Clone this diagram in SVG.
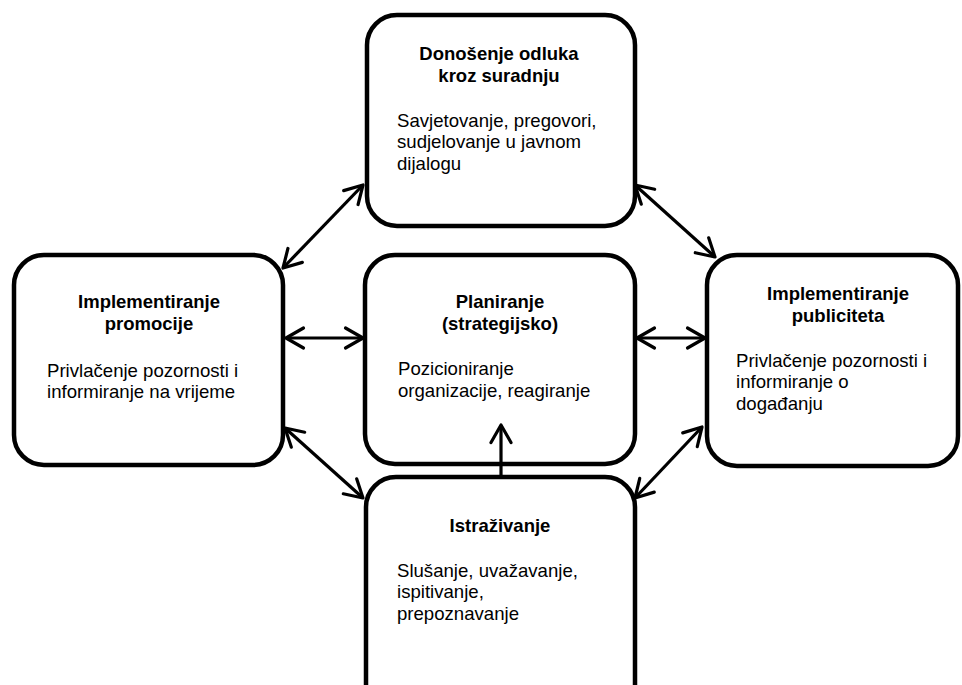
<svg xmlns="http://www.w3.org/2000/svg" width="962" height="685" viewBox="0 0 962 685">
<style>
.box{fill:#fff;stroke:#000;stroke-width:4.5}
.t{font-family:"Liberation Sans",Arial,sans-serif;font-size:18.5px;font-weight:bold;text-anchor:middle;fill:#000}
.b{font-family:"Liberation Sans",Arial,sans-serif;font-size:18.6px;fill:#000}
.c{fill:none;stroke:#000;stroke-width:3.2}
</style>
<defs>
<marker id="ah" markerUnits="userSpaceOnUse" viewBox="-22 -14 26 28" refX="0" refY="0" markerWidth="26" markerHeight="28" orient="auto-start-reverse" overflow="visible">
<path d="M-17.5,-10 L0,0 L-17.5,10" fill="none" stroke="#000" stroke-width="3.2" stroke-linecap="round" stroke-linejoin="round"/>
</marker>
</defs>
<rect width="962" height="685" fill="#fff"/>
<g id="n-top">
<rect class="box" x="367" y="15" width="268" height="211" rx="30"/>
<text class="t" x="499" y="60">Donošenje odluka</text>
<text class="t" x="499" y="82">kroz suradnju</text>
<text class="b" x="397" y="127">Savjetovanje, pregovori,</text>
<text class="b" x="397" y="148">sudjelovanje u javnom</text>
<text class="b" x="397" y="170">dijalogu</text>
</g>
<g id="n-left">
<rect class="box" x="14" y="255" width="269" height="210" rx="30"/>
<text class="t" x="149" y="308">Implementiranje</text>
<text class="t" x="149" y="330">promocije</text>
<text class="b" x="47" y="377">Privlačenje pozornosti i</text>
<text class="b" x="47" y="398">informiranje na vrijeme</text>
</g>
<g id="n-center">
<rect class="box" x="365" y="255" width="270" height="209" rx="30"/>
<text class="t" x="500" y="308">Planiranje</text>
<text class="t" x="500" y="330">(strategijsko)</text>
<text class="b" x="398" y="375">Pozicioniranje</text>
<text class="b" x="398" y="397">organizacije, reagiranje</text>
</g>
<g id="n-right">
<rect class="box" x="707" y="255" width="251" height="211" rx="30"/>
<text class="t" x="838" y="300">Implementiranje</text>
<text class="t" x="838" y="322">publiciteta</text>
<text class="b" x="736" y="367">Privlačenje pozornosti i</text>
<text class="b" x="736" y="388">informiranje o</text>
<text class="b" x="736" y="410">događanju</text>
</g>
<g id="n-bottom">
<rect class="box" x="366" y="477" width="269" height="240" rx="30"/>
<text class="t" x="500" y="532">Istraživanje</text>
<text class="b" x="397" y="577">Slušanje, uvažavanje,</text>
<text class="b" x="397" y="598">ispitivanje,</text>
<text class="b" x="397" y="620">prepoznavanje</text>
</g>
<g id="connectors">
<line class="c" x1="283" y1="268" x2="363" y2="185" marker-start="url(#ah)" marker-end="url(#ah)"/>
<line class="c" x1="635" y1="185" x2="715" y2="257" marker-start="url(#ah)" marker-end="url(#ah)"/>
<line class="c" x1="702" y1="427" x2="635" y2="498" marker-start="url(#ah)" marker-end="url(#ah)"/>
<line class="c" x1="285" y1="428" x2="363" y2="498" marker-start="url(#ah)" marker-end="url(#ah)"/>
<line class="c" x1="286" y1="338" x2="363" y2="338" marker-start="url(#ah)" marker-end="url(#ah)"/>
<line class="c" x1="637" y1="338" x2="705" y2="338" marker-start="url(#ah)" marker-end="url(#ah)"/>
<line class="c" x1="501" y1="475" x2="501" y2="425" marker-end="url(#ah)"/>
</g>
</svg>
